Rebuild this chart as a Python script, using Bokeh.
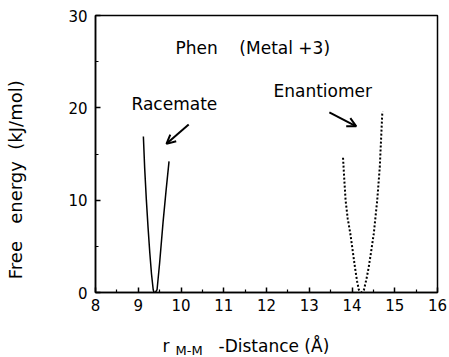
from bokeh.plotting import figure
from bokeh.layouts import column
from bokeh.models import Label, Arrow, OpenHead, FixedTicker, Range1d
from bokeh.core.properties import value
from bokeh.embed import file_html
from bokeh.resources import INLINE

# Racemate curve (solid)
rac_x = [9.12, 9.15, 9.19, 9.23, 9.27, 9.31, 9.35, 9.37, 9.40, 9.44, 9.50, 9.58, 9.65, 9.72]
rac_y = [16.9, 13.5, 10.0, 7.0, 4.3, 2.0, 0.3, 0.0, 0.0, 0.3, 3.2, 7.6, 11.0, 14.2]

# Enantiomer curve (dotted)
ena_x = [13.79, 13.82, 13.85, 13.90, 13.96, 14.02, 14.07, 14.12, 14.16, 14.22, 14.28, 14.34, 14.39, 14.45, 14.51, 14.59, 14.65, 14.71]
ena_y = [14.6, 12.2, 10.0, 8.0, 6.4, 4.4, 2.7, 1.2, 0.3, 0.0, 0.3, 1.5, 2.7, 4.5, 6.4, 10.0, 13.6, 19.6]

x_ticks = [8, 9, 10, 11, 12, 13, 14, 15, 16]
y_ticks = [0, 10, 20, 30]

FONT = "DejaVu Sans"
NB = "\u00a0"

p = figure(width=449, height=327, x_range=(8, 16), y_range=(0, 30),
           output_backend="svg", toolbar_location=None,
           min_border_left=95, min_border_right=12, min_border_top=15, min_border_bottom=35)
p.grid.visible = False
p.background_fill_color = "white"
p.border_fill_color = "white"
p.outline_line_color = "black"
p.outline_line_width = 1.5
p.outline_line_alpha = 1.0

for ax in (p.xaxis[0], p.yaxis[0]):
    ax.axis_line_width = 1.5
    ax.major_tick_in = 5
    ax.major_tick_out = 0
    ax.minor_tick_in = 3
    ax.minor_tick_out = 0
    ax.major_tick_line_width = 1.5
    ax.minor_tick_line_width = 1.2
    ax.major_label_text_font = FONT
    ax.major_label_text_font_size = "15px"
    ax.major_label_text_color = "black"

p.xaxis.ticker = FixedTicker(ticks=x_ticks, minor_ticks=[8.5 + i for i in range(8)])
p.yaxis.ticker = FixedTicker(ticks=y_ticks, minor_ticks=[5, 15, 25])
p.xaxis.major_label_standoff = 6
p.yaxis.major_label_standoff = 8

# y axis label; trailing no-break spaces shift the visible text down the axis
p.yaxis.axis_label = "Free" + NB * 3 + "energy" + NB * 2 + "(kJ/mol)" + NB * 9
p.yaxis.axis_label_text_font = FONT
p.yaxis.axis_label_text_font_size = "18px"
p.yaxis.axis_label_text_font_style = "normal"
p.yaxis.axis_label_text_color = "black"
p.yaxis.axis_label_standoff = 39

p.line(rac_x, rac_y, line_color="black", line_width=1.5)
p.line(ena_x, ena_y, line_color="black", line_width=2, line_dash="2 2")

def lab(x, y, t, size="17px", **kw):
    kw.setdefault("text_baseline", "middle")
    p.add_layout(Label(x=x, y=y, text=t, text_font=FONT, text_font_size=size,
                       text_color="black", x_units="screen", y_units="screen", **kw))

# screen units are relative to the plot frame (left=95, bottom=292 in page px)
lab(80, 245, "Phen" + NB * 4 + "(Metal +3)")
lab(36, 189, "Racemate")
lab(178, 202, "Enantiomer")

p.add_layout(Arrow(end=OpenHead(size=9, line_width=2, line_color="black"),
                   x_start=10.18, y_start=18.2, x_end=9.66, y_end=16.1,
                   line_width=2, line_color="black"))
p.add_layout(Arrow(end=OpenHead(size=9, line_width=2, line_color="black"),
                   x_start=13.47, y_start=19.5, x_end=14.1, y_end=18.0,
                   line_width=2, line_color="black"))

# x axis title with subscript, in a strip below the plot; its frame is aligned
# with the main frame (page x 95..437), so the range is in page pixels
xl = figure(width=449, height=30, x_range=Range1d(95, 437), y_range=Range1d(30, 0),
            output_backend="svg", toolbar_location=None,
            min_border=0, min_border_left=0, min_border_right=0,
            min_border_top=0, min_border_bottom=0)
xl.axis.visible = False
xl.grid.visible = False
xl.outline_line_color = None
xl.background_fill_color = "white"
xl.border_fill_color = "white"
xl.text(x=[162], y=[18], text=["r"], text_font=value(FONT), text_font_size="17px",
        text_baseline="middle", text_color="black")
xl.text(x=[175], y=[23], text=["M-M"], text_font=value(FONT), text_font_size="13px",
        text_baseline="middle", text_color="black")
xl.text(x=[218], y=[18], text=["-Distance (Å)"], text_font=value(FONT), text_font_size="17px",
        text_baseline="middle", text_color="black")

layout = column(p, xl, spacing=0)
open("out.html", "w").write(file_html(layout, INLINE))
